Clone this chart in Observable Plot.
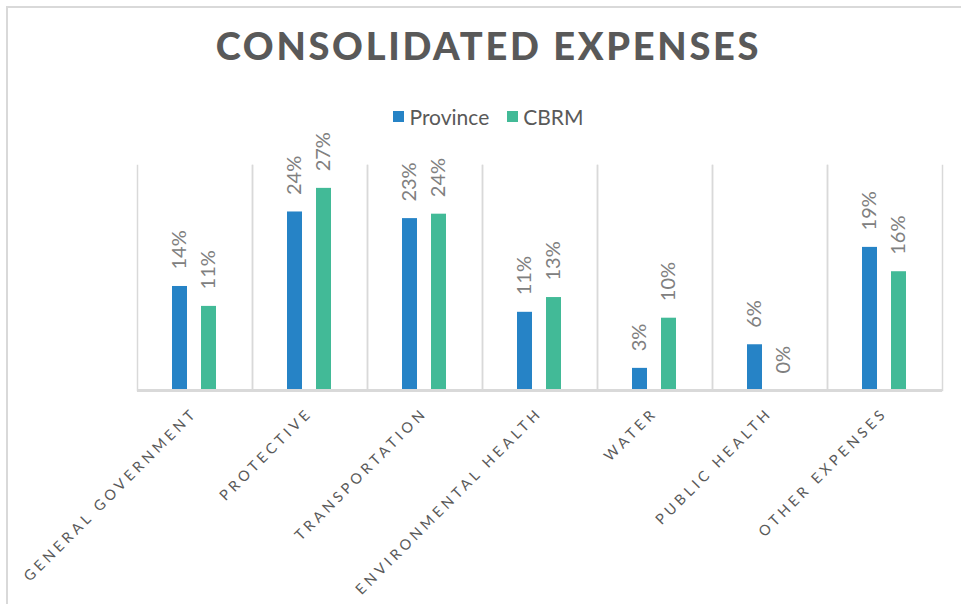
<!DOCTYPE html>
<html>
<head>
<meta charset="utf-8">
<script src="https://cdn.jsdelivr.net/npm/d3@7"></script>
<script src="https://cdn.jsdelivr.net/npm/@observablehq/plot@0.6"></script>
<style>
  body { margin:0; background:#fff; font-family: Lato, "Open Sans", sans-serif; }
  #page { position:relative; width:961px; height:604px; overflow:hidden; }
  #border { position:absolute; left:6px; top:6px; width:1100px; height:800px; border:2px solid #d9d9d9; box-sizing:border-box; }
  #title { position:absolute; left:16px; top:22px; width:945px; text-align:center; font-family: Lato, sans-serif; font-weight:900; font-size:38px; letter-spacing:2.7px; color:#595959; }
  #legend { position:absolute; left:16px; top:101px; width:945px; text-align:center; font-size:21px; color:#595959; }
  .li { display:inline-flex; align-items:center; margin:0 9px; }
  .sw { width:11px; height:11px; display:inline-block; margin-right:5px; }
  #chart { position:absolute; left:0; top:100px; }
</style>
</head>
<body>
<div id="page">
  <div id="border"></div>
  <div id="title"></div>
  <div id="legend"></div>
  <div id="chart"></div>
</div>
<script>
const titleText = "CONSOLIDATED EXPENSES";
const categories = ["General Government","Protective","Transportation","Environmental Health","Water","Public Health","Other Expenses"];
const series = ["Province","CBRM"];
const colors = ["#2683C6","#42BA97"];
const province = [0.141,0.242,0.233,0.106,0.030,0.062,0.194];
const cbrm     = [0.114,0.274,0.239,0.126,0.098,0.000,0.161];

document.getElementById("title").textContent = titleText;
const leg = document.getElementById("legend");
series.forEach((s,i)=>{
  const span = document.createElement("span"); span.className="li";
  const sw = document.createElement("span"); sw.className="sw"; sw.style.background = colors[i];
  span.appendChild(sw); span.appendChild(document.createTextNode(s));
  leg.appendChild(span);
});

const data = categories.flatMap((c,i)=>[
  {category:c, series:"Province", value:province[i]},
  {category:c, series:"CBRM", value:cbrm[i]}
]);
const fmt = d3.format(".0%");
const grid = "#d9d9d9";

const svg = Plot.plot({
  width:961, height:504,
  marginTop:65, marginBottom:214, marginLeft:134, marginRight:17,
  style:{fontFamily:"Lato, sans-serif", background:"transparent", overflow:"visible"},
  fx:{domain:categories, padding:0, axis:null},
  x:{domain:series, paddingInner:0.467, paddingOuter:1.162, axis:null},
  y:{domain:[0,0.305], axis:null},
  color:{domain:series, range:colors},
  marks:[
    Plot.frame({anchor:"left", stroke:grid, strokeWidth:1.5}),
    Plot.frame({anchor:"right", stroke:grid, strokeWidth:1.5}),
    Plot.barY(data,{fx:"category", x:"series", y:"value", fill:"series"}),
    Plot.ruleY([0],{stroke:grid, strokeWidth:3}),
    Plot.text(data,{fx:"category", x:"series", y:"value", text:d=>fmt(d.value), rotate:-90, textAnchor:"start", dy:-17, fontSize:20, fill:"#808080"}),
    Plot.text(categories,{fx:d=>d, frameAnchor:"bottom", text:d=>d.toUpperCase(), rotate:-45, textAnchor:"end", lineAnchor:"top", dx:-4, dy:16, fontSize:14.5, fill:"#595959"})
  ]
});
document.getElementById("chart").appendChild(svg);
const upper = categories.map(c=>c.toUpperCase());
d3.select(svg).selectAll("text").filter(function(){return upper.includes(this.textContent);}).attr("letter-spacing","3.8px");
</script>
</body>
</html>
